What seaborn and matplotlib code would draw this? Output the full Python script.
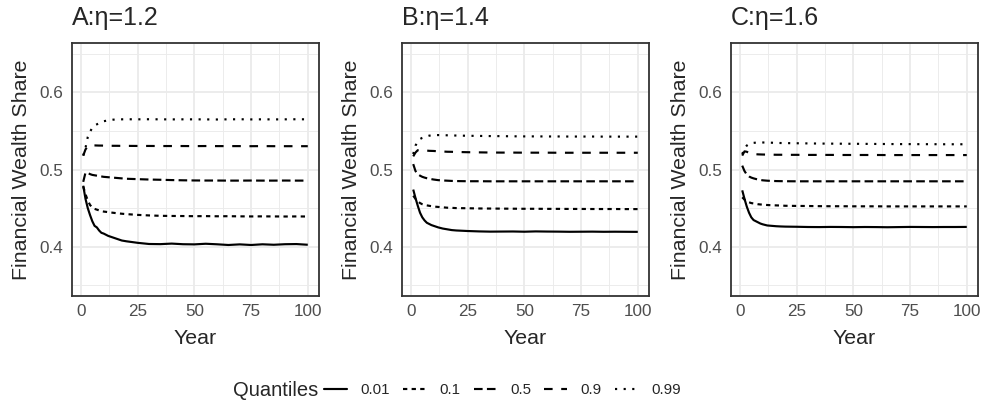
import numpy as np
import pandas as pd
import seaborn as sns
import matplotlib
matplotlib.use("Agg")
import matplotlib.pyplot as plt
from matplotlib.lines import Line2D

# ---------------- data ----------------
years = [1, 2, 3, 4, 5, 6, 7, 8, 9, 10, 12, 14, 16, 18, 20, 25, 30, 35, 40, 45,
         50, 55, 60, 65, 70, 75, 80, 85, 90, 95, 100]
quantiles = ["0.01", "0.1", "0.5", "0.9", "0.99"]
panel_titles = ["A:\u03b7=1.2", "B:\u03b7=1.4", "C:\u03b7=1.6"]

# Panel A (eta = 1.2)
a_q01 = [0.479, 0.462, 0.450, 0.441, 0.433, 0.427, 0.425, 0.421, 0.418, 0.417, 0.414, 0.412, 0.410, 0.408, 0.407,
         0.405, 0.4035, 0.4033, 0.4040, 0.4032, 0.4030, 0.4038, 0.4031, 0.4022, 0.4030, 0.4022, 0.4031, 0.4025, 0.4032, 0.4034, 0.4025]
a_q10 = [0.478, 0.468, 0.460, 0.454, 0.451, 0.449, 0.448, 0.447, 0.446, 0.4455, 0.4448, 0.444, 0.4433, 0.4427, 0.4422,
         0.4412, 0.4405, 0.4400, 0.4398, 0.4397, 0.4395, 0.4396, 0.4394, 0.4395, 0.4393, 0.4392, 0.4393, 0.4392, 0.4391, 0.4392, 0.4391]
a_q50 = [0.484, 0.496, 0.4955, 0.494, 0.493, 0.4925, 0.492, 0.4915, 0.491, 0.4905, 0.490, 0.4895, 0.489, 0.4885, 0.488,
         0.4875, 0.487, 0.4867, 0.4863, 0.486, 0.4858, 0.4857, 0.4857, 0.4856, 0.4856, 0.4857, 0.4856, 0.4856, 0.4857, 0.4856, 0.4856]
a_q90 = [0.518, 0.526, 0.530, 0.531, 0.5312, 0.5312, 0.5311, 0.531, 0.531, 0.5309, 0.5308, 0.5307, 0.5307, 0.5306, 0.5306,
         0.5305, 0.5305, 0.5304, 0.5304, 0.5304, 0.5303, 0.5304, 0.5303, 0.5303, 0.5303, 0.5302, 0.5303, 0.5302, 0.5302, 0.5302, 0.5302]
a_q99 = [0.518, 0.528, 0.542, 0.549, 0.554, 0.557, 0.5585, 0.560, 0.561, 0.5625, 0.5637, 0.5645, 0.5650, 0.5650, 0.5651,
         0.5650, 0.5651, 0.5650, 0.5649, 0.5650, 0.5650, 0.5649, 0.5648, 0.5650, 0.5651, 0.5649, 0.5650, 0.5649, 0.5650, 0.5651, 0.5650]

# Panel B (eta = 1.4)
b_q01 = [0.474, 0.463, 0.453, 0.444, 0.438, 0.434, 0.431, 0.4295, 0.428, 0.427, 0.425, 0.4235, 0.4225, 0.4215, 0.421,
         0.4203, 0.4198, 0.4195, 0.4196, 0.4197, 0.4194, 0.4198, 0.4196, 0.4195, 0.4193, 0.4194, 0.4195, 0.4193, 0.4194, 0.4193, 0.4192]
b_q10 = [0.466, 0.462, 0.459, 0.4565, 0.455, 0.454, 0.4535, 0.453, 0.4525, 0.452, 0.4515, 0.451, 0.4505, 0.4503, 0.450,
         0.4498, 0.4495, 0.4494, 0.4493, 0.4492, 0.4491, 0.4491, 0.4490, 0.4490, 0.4489, 0.4489, 0.4488, 0.4488, 0.4488, 0.4487, 0.4487]
b_q50 = [0.507, 0.498, 0.494, 0.492, 0.4905, 0.4895, 0.4887, 0.488, 0.4875, 0.487, 0.4862, 0.4858, 0.4855, 0.4852, 0.485,
         0.4848, 0.4848, 0.4847, 0.4847, 0.4847, 0.4847, 0.4847, 0.4847, 0.4847, 0.4847, 0.4847, 0.4847, 0.4847, 0.4847, 0.4847, 0.4847]
b_q90 = [0.517, 0.522, 0.525, 0.5253, 0.525, 0.5248, 0.5245, 0.5242, 0.5241, 0.524, 0.5236, 0.5233, 0.523, 0.5229, 0.5227,
         0.5224, 0.5222, 0.522, 0.5219, 0.5219, 0.5218, 0.5218, 0.5218, 0.5217, 0.5217, 0.5217, 0.5217, 0.5217, 0.5217, 0.5217, 0.5217]
b_q99 = [0.520, 0.531, 0.536, 0.5395, 0.541, 0.542, 0.543, 0.5438, 0.5442, 0.5445, 0.5446, 0.5445, 0.5443, 0.5441, 0.544,
         0.5437, 0.5435, 0.5433, 0.5432, 0.543, 0.5429, 0.5429, 0.5428, 0.5428, 0.5427, 0.5427, 0.5427, 0.5426, 0.5426, 0.5426, 0.5426]

# Panel C (eta = 1.6)
c_q01 = [0.473, 0.462, 0.452, 0.444, 0.438, 0.4345, 0.433, 0.4315, 0.430, 0.429, 0.4275, 0.427, 0.4265, 0.4262, 0.426,
         0.4258, 0.4255, 0.4254, 0.4256, 0.4255, 0.4253, 0.4255, 0.4254, 0.4252, 0.4254, 0.4256, 0.4255, 0.4254, 0.4255, 0.4255, 0.4256]
c_q10 = [0.464, 0.461, 0.459, 0.4575, 0.4565, 0.456, 0.4555, 0.455, 0.4547, 0.4545, 0.454, 0.4537, 0.4535, 0.4533, 0.453,
         0.4528, 0.4527, 0.4525, 0.4524, 0.4524, 0.4523, 0.4523, 0.4523, 0.4522, 0.4522, 0.4522, 0.4522, 0.4522, 0.4522, 0.4522, 0.4522]
c_q50 = [0.505, 0.498, 0.4935, 0.491, 0.4895, 0.4885, 0.4877, 0.487, 0.4865, 0.486, 0.4855, 0.4852, 0.485, 0.4849, 0.4848,
         0.4847, 0.4847, 0.4847, 0.4847, 0.4847, 0.4847, 0.4847, 0.4847, 0.4847, 0.4847, 0.4847, 0.4847, 0.4847, 0.4847, 0.4847, 0.4847]
c_q90 = [0.518, 0.5235, 0.523, 0.5215, 0.5205, 0.520, 0.5198, 0.5196, 0.5195, 0.5194, 0.5193, 0.5192, 0.5191, 0.5191, 0.519,
         0.519, 0.5189, 0.5189, 0.5189, 0.5188, 0.5188, 0.5188, 0.5188, 0.5187, 0.5187, 0.5187, 0.5187, 0.5187, 0.5187, 0.5187, 0.5187]
c_q99 = [0.520, 0.527, 0.531, 0.533, 0.534, 0.5345, 0.5348, 0.535, 0.535, 0.535, 0.5349, 0.5347, 0.5345, 0.5343, 0.5342,
         0.534, 0.5338, 0.5336, 0.5335, 0.5334, 0.5333, 0.5332, 0.5331, 0.533, 0.5329, 0.5329, 0.5328, 0.5328, 0.5327, 0.5327, 0.5327]

panels = [
    [a_q01, a_q10, a_q50, a_q90, a_q99],
    [b_q01, b_q10, b_q50, b_q90, b_q99],
    [c_q01, c_q10, c_q50, c_q90, c_q99],
]

# ---------------- styling ----------------
sns.set_style("white")
plt.rcParams["font.family"] = ["Liberation Sans", "DejaVu Sans"]

dash_map = {"0.01": "", "0.1": (2, 2), "0.5": (4, 2), "0.9": (4, 4), "0.99": (1, 3)}
LW = 1.55
GRID = "#EBEBEB"
BORDER = "#333333"

fig = plt.figure(figsize=(9.83, 4.05), dpi=100)
W, H = 983.0, 405.0
lefts = [72, 402, 731]
top_px, bot_px, width_px = 43.3, 295.7, 247

for i, (left, series, title) in enumerate(zip(lefts, panels, panel_titles)):
    ax = fig.add_axes([left / W, 1 - bot_px / H, width_px / W, (bot_px - top_px) / H])
    rows = []
    for q, vals in zip(quantiles, series):
        for yv, v in zip(years, vals):
            rows.append({"Year": yv, "Share": v, "Quantile": q})
    df = pd.DataFrame(rows)
    sns.lineplot(data=df, x="Year", y="Share", style="Quantile", style_order=quantiles,
                 dashes=dash_map, color="black", linewidth=LW, legend=False, ax=ax)
    for ln in ax.get_lines():
        ln.set_dash_capstyle("butt")
        ln.set_solid_capstyle("butt")

    ax.set_xlim(-3.95, 104.95)
    ax.set_ylim(0.3365, 0.6635)
    ax.set_xticks([0, 25, 50, 75, 100])
    ax.set_xticks([12.5, 37.5, 62.5, 87.5], minor=True)
    ax.set_yticks([0.4, 0.5, 0.6])
    ax.set_yticklabels(["0.4", "0.5", "0.6"])
    ax.set_yticks([0.35, 0.45, 0.55, 0.65], minor=True)
    ax.grid(which="major", color=GRID, linewidth=1.3)
    ax.grid(which="minor", color=GRID, linewidth=0.65)
    ax.set_axisbelow(True)
    for sp in ax.spines.values():
        sp.set_color(BORDER)
        sp.set_linewidth(1.3)
        sp.set_visible(True)
    ax.tick_params(which="major", length=3.6, width=1.3, color=BORDER,
                   labelcolor="#4D4D4D", labelsize=12.3, pad=2.5)
    ax.tick_params(which="minor", length=0)
    ax.set_xlabel("Year", fontsize=15.4, labelpad=7)
    ax.set_ylabel("Financial Wealth Share", fontsize=15.4, labelpad=6)
    ax.set_title(title, loc="left", fontsize=18.0, pad=13)

# legend
fig.text(233 / W, 1 - 390 / H, "Quantiles", fontsize=14.5, va="center", ha="left")
handles = [Line2D([0], [0], color="black", linewidth=LW,
                  linestyle="solid" if dash_map[q] == "" else (0, dash_map[q]),
                  dash_capstyle="butt")
           for q in quantiles]
fig.legend(handles, quantiles, loc="center left", bbox_to_anchor=(324 / W, 1 - 390 / H),
           ncol=5, frameon=False, fontsize=10.8, handlelength=1.5, handletextpad=0.95,
           columnspacing=0.85, borderpad=0, borderaxespad=0)

fig.savefig("out.png", dpi=100)
